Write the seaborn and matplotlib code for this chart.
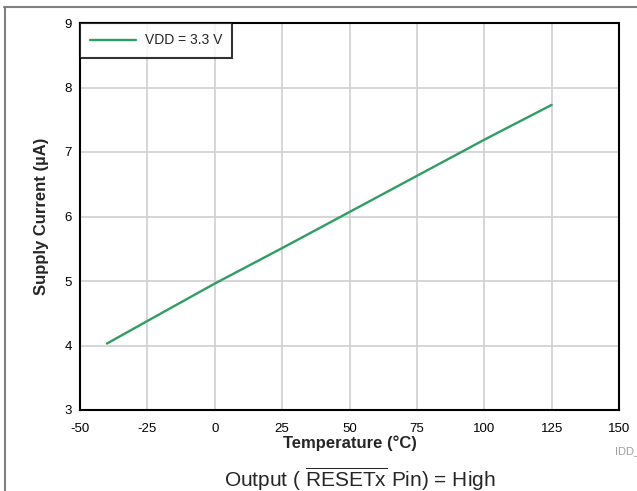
import matplotlib
matplotlib.use("Agg")
import matplotlib.pyplot as plt
import seaborn as sns
import pandas as pd
from matplotlib.lines import Line2D

temperature = [-40, -25, 0, 25, 50, 75, 100, 125]
supply_current = [4.03, 4.38, 4.96, 5.51, 6.07, 6.63, 7.19, 7.73]
x_ticks = [-50, -25, 0, 25, 50, 75, 100, 125, 150]
y_ticks = [3, 4, 5, 6, 7, 8, 9]

sns.set_theme(style="white")
plt.rcParams['font.family'] = ['Liberation Sans', 'DejaVu Sans']
plt.rcParams['mathtext.fontset'] = 'custom'
plt.rcParams['mathtext.rm'] = 'Liberation Sans'
plt.rcParams['axes.unicode_minus'] = False

df = pd.DataFrame({"Temperature": temperature, "Current": supply_current})

fig = plt.figure(figsize=(6.37, 4.91), dpi=100)
ax = fig.add_axes([80/637, 1-410/491, (619-80)/637, (410-23)/491])

sns.lineplot(data=df, x="Temperature", y="Current", ax=ax, color="#2f9e62",
             linewidth=1.7, label="VDD = 3.3 V")

ax.set_xlim(-50, 150)
ax.set_ylim(3, 9)
ax.set_xticks(x_ticks)
ax.set_yticks(y_ticks)
ax.tick_params(axis='x', length=0, labelsize=9.5, pad=9, colors='black')
ax.tick_params(axis='y', length=0, labelsize=9.5, pad=6, colors='black')
ax.grid(True, color='#d0d0d0', linewidth=1.2)
ax.set_axisbelow(True)
for s in ax.spines.values():
    s.set_color('black')
    s.set_linewidth(1.5)
ax.set_xlabel("Temperature (°C)", fontsize=12, fontweight='bold', labelpad=1)
ax.set_ylabel("Supply Current (µA)", fontsize=12, fontweight='bold', labelpad=11)

leg = ax.legend(loc='upper left', borderaxespad=0, fancybox=False, fontsize=10,
                handlelength=3.3, handletextpad=0.6, frameon=True, borderpad=0.75)
leg.get_frame().set_edgecolor('black')
leg.get_frame().set_linewidth(1.5)

# frame lines of the figure
fig.add_artist(Line2D([4/637, 1], [1-6.5/491, 1-6.5/491], color='#808080', linewidth=1.5))
fig.add_artist(Line2D([4.5/637, 4.5/637], [0, 1-6.5/491], color='#808080', linewidth=1.5))

fig.text(615/637, 1-451/491, "IDD_", fontsize=8, color='#a0a0a0', ha='left', va='center')
fig.text(360/637, 1-487/491, r"Output ( $\overline{\mathrm{RESETx}}$ Pin) = High",
         fontsize=15, ha='center', va='baseline')

fig.savefig("out.png", dpi=100)
